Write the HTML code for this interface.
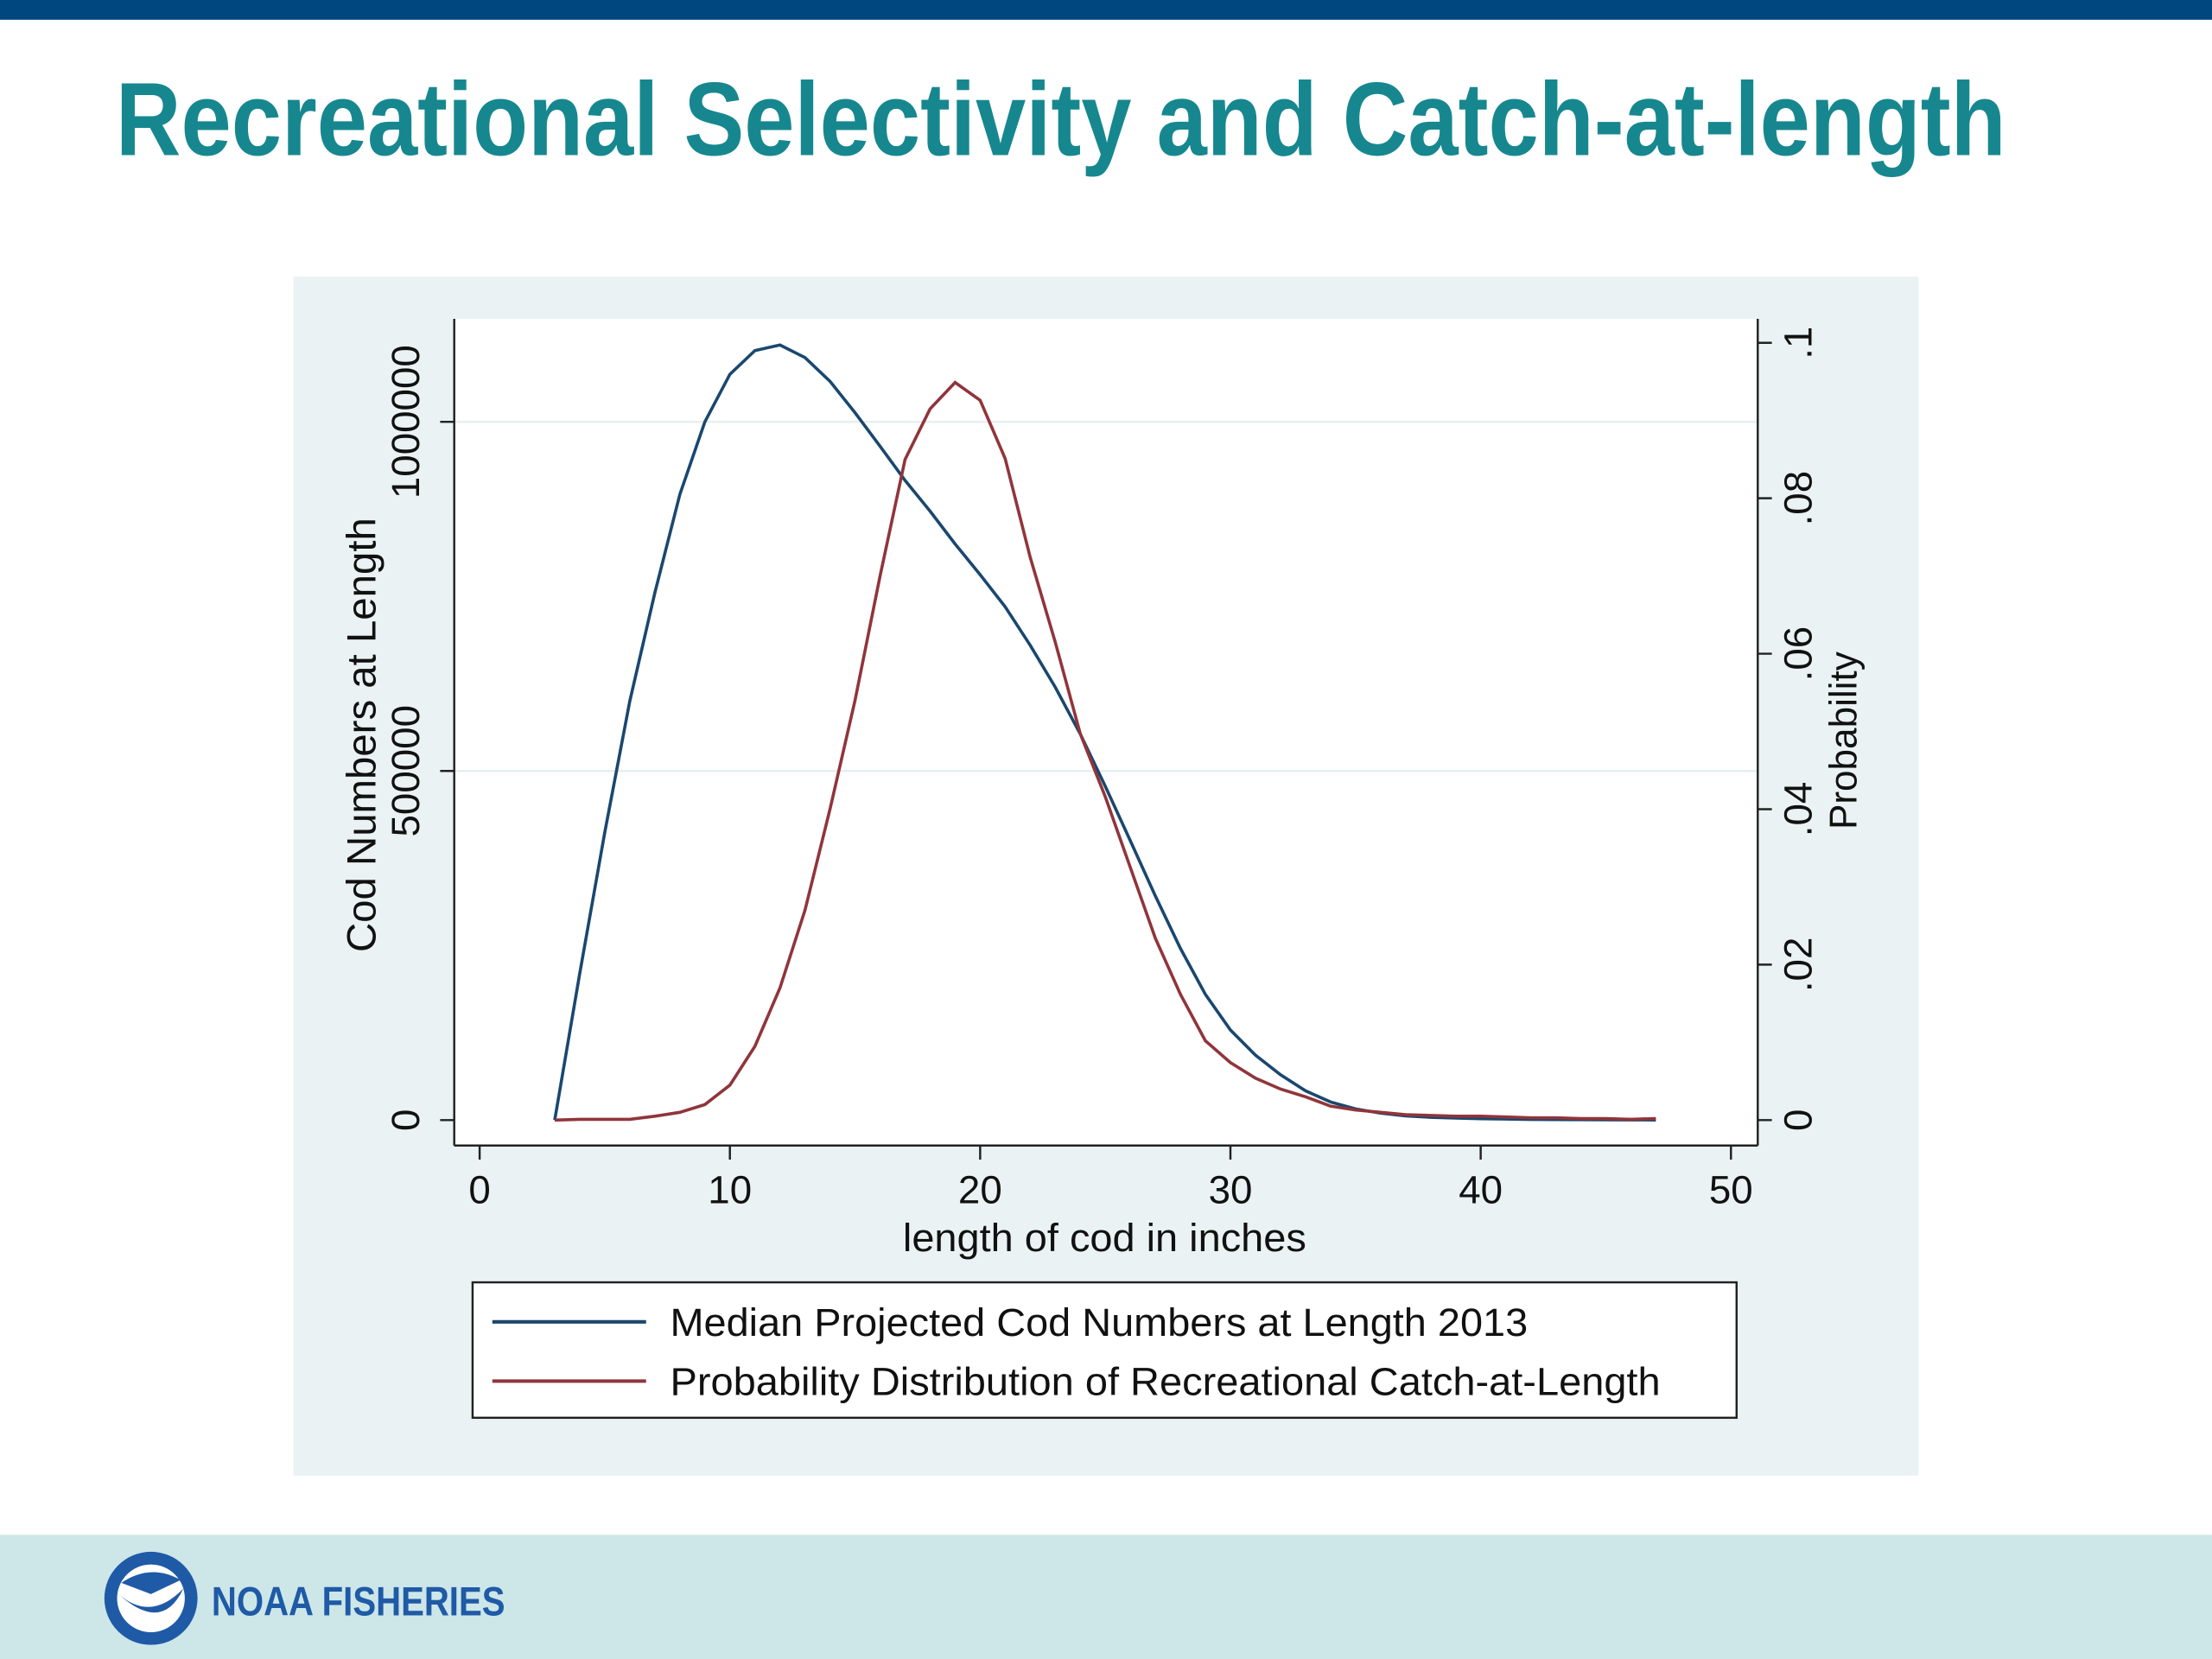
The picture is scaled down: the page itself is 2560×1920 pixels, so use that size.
<!DOCTYPE html>
<html><head><meta charset="utf-8"><style>
html,body{margin:0;padding:0;background:#fff}
svg{display:block}
text{font-family:"Liberation Sans",Arial,sans-serif}
</style></head><body>
<svg id="chart" width="2560" height="1920" viewBox="0 0 1568 1176" xmlns="http://www.w3.org/2000/svg">
<rect x="0" y="0" width="1568" height="14" fill="#00467f"/>
<text x="82" y="110" font-size="74" font-weight="bold" fill="#17878f" textLength="1340" lengthAdjust="spacingAndGlyphs">Recreational Selectivity and Catch-at-length</text>
<rect x="208" y="196" width="1152" height="850" fill="#eaf2f3"/>
<rect x="322" y="226" width="924" height="586" fill="#fff"/>
<g id="grid"></g>
<g id="axes"></g>
<g id="series"></g>
<text x="783" y="887" font-size="28" text-anchor="middle" fill="#111" textLength="286" lengthAdjust="spacingAndGlyphs">length of cod in inches</text>
<text transform="translate(266,521) rotate(-90)" font-size="29" text-anchor="middle" fill="#111" textLength="308" lengthAdjust="spacingAndGlyphs">Cod Numbers at Length</text>
<text transform="translate(1316,525) rotate(-90)" font-size="27" text-anchor="middle" fill="#111">Probability</text>
<g>
<rect x="335" y="909" width="896" height="96" fill="#fff" stroke="#222" stroke-width="1.5"/>
<line x1="349" y1="937" x2="458" y2="937" stroke="#1a476f" stroke-width="2.5"/>
<text x="475" y="947" font-size="28" fill="#111" textLength="608" lengthAdjust="spacingAndGlyphs">Median Projected Cod Numbers at Length 2013</text>
<line x1="349" y1="979" x2="458" y2="979" stroke="#90353b" stroke-width="2.5"/>
<text x="475" y="989" font-size="28" fill="#111" textLength="702" lengthAdjust="spacingAndGlyphs">Probability Distribution of Recreational Catch-at-Length</text>
</g>
<rect x="0" y="1088" width="1568" height="88" fill="#cde6e8"/>
<g>
<circle cx="107" cy="1133" r="33" fill="#1f5aa6"/>
<circle cx="107" cy="1133" r="24" fill="#fff"/>
<path d="M84 1130 Q107 1150 130 1126 Q115 1158 84 1130Z" fill="#1f5aa6"/>
<path d="M86 1122 Q107 1108 128 1120 L107 1130Z" fill="#1f5aa6"/>
<text x="150" y="1145" font-size="29" font-weight="bold" fill="#1f5aa6" textLength="208" lengthAdjust="spacingAndGlyphs">NOAA FISHERIES</text>
</g>
</svg>
<script>
const xLengths=[3,4,5,6,7,8,9,10,11,12,13,14,15,16,17,18,19,20,21,22,23,24,25,26,27,28,29,30,31,32,33,34,35,36,37,38,39,40,41,42,43,44,45,46,47];
const codNumbers=[0,210000,412000,600000,755000,896000,1000000,1068000,1102000,1110000,1092000,1058000,1013000,965000,916000,872000,825000,781000,735000,680000,620000,553000,478000,400000,321000,246000,180000,129000,93000,65000,42000,26000,16000,10000,6000,4000,3000,2000,1500,1000,800,600,400,300,200];
const probability=[0,0.0001,0.0001,0.0001,0.0005,0.001,0.002,0.0045,0.0095,0.017,0.027,0.040,0.054,0.070,0.085,0.0915,0.0949,0.0926,0.0851,0.0724,0.0615,0.0497,0.0416,0.0325,0.0234,0.0162,0.0102,0.0074,0.0054,0.004,0.003,0.0018,0.0013,0.001,0.0007,0.0006,0.0005,0.0005,0.0004,0.0003,0.0003,0.0002,0.0002,0.0001,0.0002];
const xTicks=[0,10,20,30,40,50];
const yLeftTicks=[0,500000,1000000];
const yRightTicks=[0,0.02,0.04,0.06,0.08,0.1];
const yRightLabels=["0",".02",".04",".06",".08",".1"];
const NS="http://www.w3.org/2000/svg";
function sx(v){return 340+v*(1227-340)/50;}
function syL(v){return 794-v*(794-299)/1000000;}
function syR(v){return 794-v*(794-243)/0.1;}
function mk(tag,attrs,parent){const e=document.createElementNS(NS,tag);for(const k in attrs)e.setAttribute(k,attrs[k]);parent.appendChild(e);return e;}
const grid=document.getElementById('grid'),axes=document.getElementById('axes'),series=document.getElementById('series');
yLeftTicks.forEach(v=>{if(v>0){const g=mk('line',{x1:322,x2:1246,y1:syL(v),y2:syL(v),stroke:'#e6efef','stroke-width':1.5},grid);

}});
let a=mk('line',{x1:322,x2:322,y1:226,y2:812,stroke:'#222','stroke-width':1.5},axes);


a=mk('line',{x1:1246,x2:1246,y1:226,y2:812,stroke:'#222','stroke-width':1.5},axes);


a=mk('line',{x1:322,x2:1246,y1:812,y2:812,stroke:'#222','stroke-width':1.5},axes);


xTicks.forEach(v=>{mk('line',{x1:sx(v),x2:sx(v),y1:812,y2:822,stroke:'#222','stroke-width':1.5},axes);
const t=mk('text',{x:sx(v),y:853,'font-size':28,'text-anchor':'middle',fill:'#111'},axes);t.textContent=v;

});
yLeftTicks.forEach(v=>{mk('line',{x1:312,x2:322,y1:syL(v),y2:syL(v),stroke:'#222','stroke-width':1.5},axes);
const t=mk('text',{transform:`translate(297,${syL(v)}) rotate(-90)`,'font-size':28,'text-anchor':'middle',fill:'#111'},axes);t.textContent=v;

});
yRightTicks.forEach((v,i)=>{mk('line',{x1:1246,x2:1256,y1:syR(v),y2:syR(v),stroke:'#222','stroke-width':1.5},axes);
const t=mk('text',{transform:`translate(1284,${syR(v)}) rotate(-90)`,'font-size':28,'text-anchor':'middle',fill:'#111'},axes);t.textContent=yRightLabels[i];

});
let p=mk('polyline',{points:xLengths.map((x,i)=>sx(x)+','+syL(codNumbers[i])).join(' '),fill:'none',stroke:'#1a476f','stroke-width':2.2},series);


p=mk('polyline',{points:xLengths.map((x,i)=>sx(x)+','+syR(probability[i])).join(' '),fill:'none',stroke:'#90353b','stroke-width':2.2},series);


</script>
</body></html>
